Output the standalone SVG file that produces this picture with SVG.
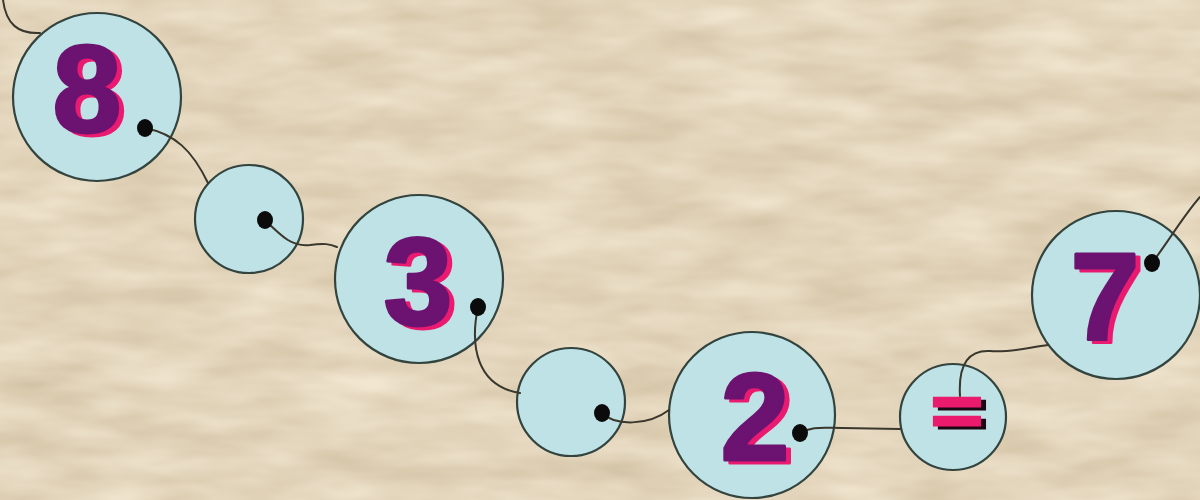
<svg xmlns="http://www.w3.org/2000/svg" width="1200" height="500" viewBox="0 0 1200 500">
  <defs>
    <filter id="tex" x="0" y="0" width="100%" height="100%" color-interpolation-filters="sRGB">
      <feTurbulence type="fractalNoise" baseFrequency="0.01 0.035" numOctaves="3" seed="7"/>
      <feColorMatrix type="matrix" values="0.15 0 0 0 0.815  0.17 0 0 0 0.75  0.21 0 0 0 0.63  0 0 0 0 1"/>
    </filter>
    <filter id="sh" x="-20%" y="-20%" width="140%" height="140%" color-interpolation-filters="sRGB">
      <feOffset in="SourceAlpha" dx="5" dy="3" result="o"/>
      <feFlood flood-color="#ea1a70"/>
      <feComposite in2="o" operator="in" result="s"/>
      <feMerge><feMergeNode in="s"/><feMergeNode in="SourceGraphic"/></feMerge>
    </filter>
    <filter id="shd" x="-20%" y="-30%" width="150%" height="160%" color-interpolation-filters="sRGB">
      <feOffset in="SourceAlpha" dx="5" dy="4" result="o"/>
      <feFlood flood-color="#1c0814"/>
      <feComposite in2="o" operator="in" result="s"/>
      <feMerge><feMergeNode in="s"/><feMergeNode in="SourceGraphic"/></feMerge>
    </filter>
    <style>
      .node { fill: #bee2e6; stroke: #33443f; stroke-width: 2.2; }
      .dot { fill: #0b0b0b; }
      .wire { fill: none; stroke: #3a372c; stroke-width: 2; stroke-linecap: round; }
      .dig { font-family: "Liberation Sans", Arial, sans-serif; font-weight: bold; font-size: 124px; text-anchor: middle; stroke-linejoin: round; stroke-width: 3; fill: #6c1270; stroke: #6c1270; filter: url(#sh); }
      .eq { font-family: "Liberation Sans", Arial, sans-serif; font-weight: bold; font-size: 88px; text-anchor: middle; fill: #ea1a6c; stroke: #ea1a6c; stroke-width: 4; filter: url(#shd); }
    </style>
  </defs>
  <rect width="1200" height="500" fill="#e3d2b4"/>
  <rect width="1200" height="500" filter="url(#tex)"/>

  <g id="n8">
    <circle class="node" cx="97" cy="97" r="84"/>
    <text class="dig" x="87" y="132">8</text>
  </g>
  <g id="s1">
    <circle class="node" cx="249" cy="219" r="54"/>
  </g>
  <g id="n3">
    <circle class="node" cx="419" cy="279" r="84"/>
    <text class="dig" x="418" y="325">3</text>
  </g>
  <g id="s2">
    <circle class="node" cx="571" cy="402" r="54"/>
  </g>
  <g id="n2">
    <circle class="node" cx="752" cy="415" r="83"/>
    <text class="dig" x="755" y="460">2</text>
  </g>
  <g id="neq">
    <circle class="node" cx="953" cy="417" r="53"/>
    <text class="eq" transform="translate(957 435) scale(1 0.8)" x="0" y="0">=</text>
  </g>
  <g id="n7">
    <circle class="node" cx="1116" cy="295" r="84"/>
    <text class="dig" x="1105" y="340">7</text>
  </g>

  <g id="connectors">
    <path class="wire" d="M3 0 C 6 24, 18 34, 40 33"/>
    <path class="wire" d="M145 128 C 175 134, 192 150, 208 183"/>
    <path class="wire" d="M265 220 C 283 238, 293 247, 310 245 C 324 243, 330 244, 337 247"/>
    <path class="wire" d="M478 307 C 470 345, 476 386, 520 393"/>
    <path class="wire" d="M602 413 C 615 426, 648 426, 669 410"/>
    <path class="wire" d="M800 433 C 812 426, 822 428, 842 428 L 900 429"/>
    <path class="wire" d="M960 396 C 958 362, 970 350, 990 351 C 1010 353, 1030 347, 1048 345"/>
    <path class="wire" d="M1152 263 C 1168 242, 1184 215, 1200 197"/>
    <ellipse class="dot" cx="145" cy="128" rx="8" ry="9"/>
    <ellipse class="dot" cx="265" cy="220" rx="8" ry="9"/>
    <ellipse class="dot" cx="478" cy="307" rx="8" ry="9"/>
    <ellipse class="dot" cx="602" cy="413" rx="8" ry="9"/>
    <ellipse class="dot" cx="800" cy="433" rx="8" ry="9"/>
    <ellipse class="dot" cx="1152" cy="263" rx="8" ry="9"/>
  </g>
</svg>
